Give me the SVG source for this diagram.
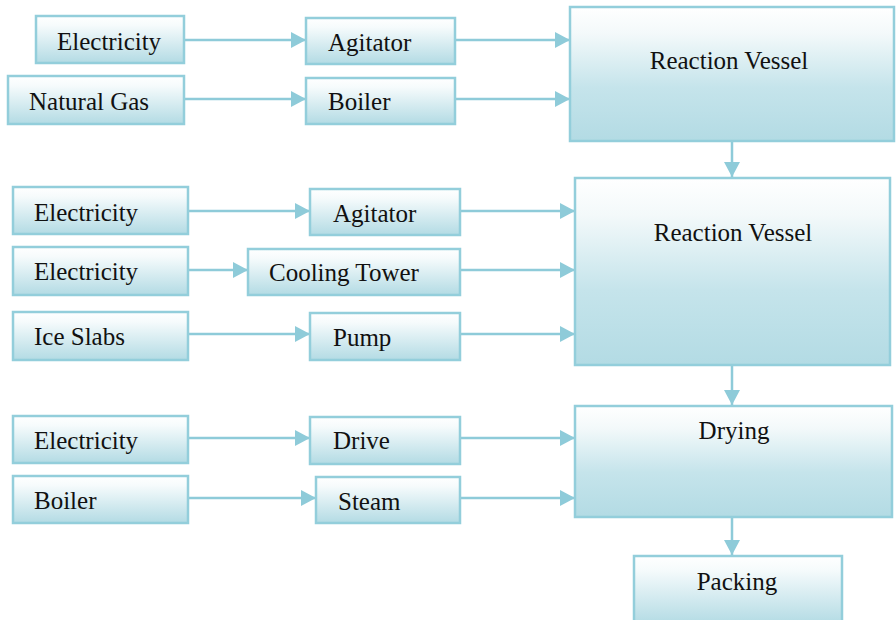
<svg xmlns="http://www.w3.org/2000/svg" width="896" height="620" viewBox="0 0 896 620">
<style>
.box{fill:url(#g);stroke:#93cedb;stroke-width:2.5}
.big{fill:url(#g2);stroke:#93cedb;stroke-width:2.5}
.c{stroke:#8ecbd9;stroke-width:2.5;fill:none;marker-end:url(#ah)}
</style>
<defs>
<linearGradient id="g" x1="0" y1="0" x2="0" y2="1">
<stop offset="0" stop-color="#ffffff"/><stop offset="0.2" stop-color="#f6fbfc"/><stop offset="1" stop-color="#b3dbe4"/>
</linearGradient>
<linearGradient id="g2" x1="0" y1="0" x2="0" y2="1">
<stop offset="0" stop-color="#ffffff"/><stop offset="0.2" stop-color="#f3f9fa"/><stop offset="0.6" stop-color="#c5e4eb"/><stop offset="1" stop-color="#b3dbe4"/>
</linearGradient>
<marker id="ah" markerUnits="userSpaceOnUse" markerWidth="16" markerHeight="16" refX="15" refY="8" orient="auto">
<path d="M0,0 L15,8 L0,16 Z" fill="#8ecbd9"/>
</marker>
</defs>
<g id="connectors">
<line class="c" x1="185" y1="40" x2="306" y2="40"/>
<line class="c" x1="185" y1="99" x2="306" y2="99"/>
<line class="c" x1="456" y1="40" x2="570" y2="40"/>
<line class="c" x1="456" y1="99" x2="570" y2="99"/>
<line class="c" x1="732" y1="142" x2="732" y2="177"/>
<line class="c" x1="189" y1="211" x2="310" y2="211"/>
<line class="c" x1="189" y1="270" x2="248" y2="270"/>
<line class="c" x1="189" y1="334" x2="310" y2="334"/>
<line class="c" x1="461" y1="211" x2="575" y2="211"/>
<line class="c" x1="461" y1="270" x2="575" y2="270"/>
<line class="c" x1="461" y1="334" x2="575" y2="334"/>
<line class="c" x1="732" y1="366" x2="732" y2="405"/>
<line class="c" x1="189" y1="438" x2="310" y2="438"/>
<line class="c" x1="189" y1="498" x2="316" y2="498"/>
<line class="c" x1="461" y1="438" x2="575" y2="438"/>
<line class="c" x1="461" y1="498" x2="575" y2="498"/>
<line class="c" x1="732" y1="518" x2="732" y2="555"/>
</g>
<g id="nodes" font-family="Liberation Serif, serif" font-size="25" fill="#111">
<g id="elec1"><rect class="box" x="36" y="16" width="148" height="47"/><text x="57" y="50">Electricity</text></g>
<g id="gas1"><rect class="box" x="8" y="76" width="176" height="48"/><text x="29" y="110">Natural Gas</text></g>
<g id="agit1"><rect class="box" x="306" y="18" width="149" height="46"/><text x="328" y="51">Agitator</text></g>
<g id="boiler1"><rect class="box" x="306" y="78" width="149" height="46"/><text x="328" y="110">Boiler</text></g>
<g id="rv1"><rect class="big" x="570" y="7" width="324" height="134"/><text x="729" y="69" text-anchor="middle">Reaction Vessel</text></g>
<g id="elec2"><rect class="box" x="13" y="187" width="175" height="47"/><text x="34" y="221">Electricity</text></g>
<g id="agit2"><rect class="box" x="310" y="189" width="150" height="46"/><text x="333" y="222">Agitator</text></g>
<g id="elec3"><rect class="box" x="13" y="247" width="175" height="48"/><text x="34" y="280">Electricity</text></g>
<g id="cool"><rect class="box" x="248" y="249" width="212" height="46"/><text x="269" y="281">Cooling Tower</text></g>
<g id="ice"><rect class="box" x="13" y="312" width="175" height="48"/><text x="34" y="345">Ice Slabs</text></g>
<g id="pump"><rect class="box" x="310" y="313" width="150" height="47"/><text x="333" y="346">Pump</text></g>
<g id="rv2"><rect class="big" x="575" y="178" width="315" height="187"/><text x="733" y="241" text-anchor="middle">Reaction Vessel</text></g>
<g id="elec4"><rect class="box" x="13" y="416" width="175" height="47"/><text x="34" y="449">Electricity</text></g>
<g id="drive"><rect class="box" x="310" y="417" width="150" height="47"/><text x="333" y="449">Drive</text></g>
<g id="boiler2"><rect class="box" x="13" y="476" width="175" height="47"/><text x="34" y="509">Boiler</text></g>
<g id="steam"><rect class="box" x="316" y="477" width="144" height="46"/><text x="338" y="510">Steam</text></g>
<g id="drying"><rect class="big" x="575" y="406" width="317" height="111"/><text x="734" y="439" text-anchor="middle">Drying</text></g>
<g id="packing"><rect class="box" x="634" y="556" width="208" height="68"/><text x="737" y="590" text-anchor="middle">Packing</text></g>
</g>
</svg>
